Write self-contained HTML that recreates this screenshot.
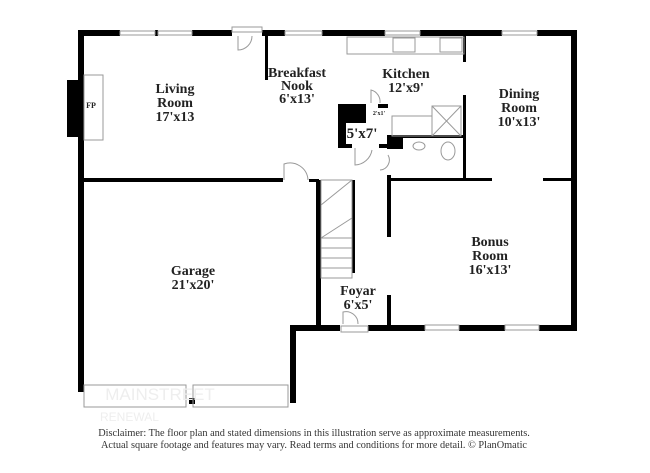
<!DOCTYPE html>
<html><head><style>
html,body{margin:0;padding:0;background:#fff;width:650px;height:473px;overflow:hidden}
svg{position:absolute;left:0;top:0}
text{font-family:"Liberation Serif",serif;font-weight:bold;fill:#222;text-anchor:middle}
</style></head><body>
<svg width="650" height="473" viewBox="0 0 650 473">
<g fill="#000">
<rect x="78" y="30" width="42" height="6"/>
<rect x="155" y="30" width="3" height="6"/>
<rect x="192" y="30" width="40" height="6"/>
<rect x="262" y="30" width="23" height="6"/>
<rect x="322" y="30" width="63" height="6"/>
<rect x="420" y="30" width="82" height="6"/>
<rect x="537" y="30" width="40" height="6"/>
<rect x="78" y="30" width="6" height="362"/>
<rect x="67" y="80" width="14" height="57"/>
<rect x="571" y="30" width="6" height="301"/>
<rect x="290" y="325" width="50" height="6"/>
<rect x="368" y="325" width="57" height="6"/>
<rect x="459" y="325" width="46" height="6"/>
<rect x="539" y="325" width="38" height="6"/>
<rect x="290" y="325" width="6" height="78"/>
<rect x="83" y="178" width="200" height="4"/>
<rect x="265" y="35" width="3" height="45"/>
<rect x="316" y="180" width="5" height="147"/>
<rect x="352" y="180" width="3" height="93"/>
<rect x="309" y="179" width="10" height="3"/>
<rect x="387" y="175" width="4" height="62"/>
<rect x="387" y="295" width="4" height="32"/>
<rect x="387" y="178" width="105" height="3"/>
<rect x="543" y="178" width="30" height="3"/>
<rect x="463" y="35" width="3" height="27"/>
<rect x="463" y="95" width="3" height="85"/>
<rect x="338" y="104" width="8" height="44"/>
<rect x="338" y="104" width="28" height="19"/>
<rect x="338" y="144" width="14" height="4"/>
<rect x="378" y="104" width="10" height="4"/>
<rect x="379" y="144" width="9" height="4"/>
<rect x="387" y="135" width="16" height="14"/>
<rect x="387" y="135" width="76" height="3"/>
<rect x="189" y="398" width="6" height="6"/>
</g>
<g fill="none" stroke="#999" stroke-width="1">
<rect x="120" y="31" width="35" height="4"/>
<rect x="158" y="31" width="34" height="4"/>
<rect x="285" y="31" width="37" height="4"/>
<rect x="385" y="31" width="35" height="4"/>
<rect x="502" y="31" width="35" height="4"/>
<rect x="425" y="325" width="34" height="5"/>
<rect x="505" y="325" width="34" height="5"/>
<rect x="232" y="27" width="30" height="5"/>
<path d="M238 36 V50 A14 14 0 0 0 252 36"/>
<rect x="84" y="75" width="19" height="65"/>
<rect x="347" y="37" width="117" height="17"/>
<rect x="393" y="38" width="22" height="14"/>
<rect x="440" y="38" width="22" height="14"/>
<rect x="84" y="385" width="102" height="22"/>
<rect x="193" y="385" width="95" height="22"/>
<rect x="321" y="180" width="31" height="98"/>
<path d="M321 238 H352 M321 248 H352 M321 258 H352 M321 268 H352 M321 205 L352 180 M321 238 L352 218"/>
<rect x="432" y="106" width="29" height="30"/>
<path d="M432 106 L461 136 M461 106 L432 136"/>
<rect x="392" y="116" width="40" height="20"/>
<ellipse cx="448" cy="151" rx="7" ry="9"/>
<ellipse cx="419" cy="146" rx="6" ry="4"/>
<path d="M284 180 V164 A18 18 0 0 1 308 180"/>
<path d="M343 324 V312 A12 12 0 0 1 358 324"/>
<path d="M355 148 V165 A18 18 0 0 0 372 150"/>
<path d="M371 103 V90 A12 12 0 0 1 380 103"/>
<path d="M380 170 A10 10 0 0 0 388 155"/>
<rect x="341" y="326" width="27" height="6"/>
</g>
<g font-size="14">
<text x="175" y="93">Living</text><text x="175" y="107">Room</text><text x="175" y="121">17'x13</text>
<text x="297" y="77">Breakfast</text><text x="297" y="90">Nook</text><text x="297" y="103">6'x13'</text>
<text x="406" y="78">Kitchen</text><text x="406" y="92">12'x9'</text>
<text x="519" y="98">Dining</text><text x="519" y="112">Room</text><text x="519" y="126">10'x13'</text>
<text x="490" y="246">Bonus</text><text x="490" y="260">Room</text><text x="490" y="274">16'x13'</text>
<text x="193" y="275">Garage</text><text x="193" y="289">21'x20'</text>
<text x="358" y="295">Foyar</text><text x="358" y="309">6'x5'</text>
<text x="362" y="138" font-size="15">5'x7'</text>
</g>
<text x="91" y="108" font-size="8">FP</text>
<text x="379" y="115" font-size="6">2'x1'</text>
<text x="160" y="400" font-size="17" style="fill:#eee;font-family:'Liberation Sans',sans-serif;font-weight:normal">MAINSTREET</text>
<text x="100" y="421" font-size="12" style="fill:#eee;font-family:'Liberation Sans',sans-serif;font-weight:normal;text-anchor:start">RENEWAL</text>
<text x="314" y="436" font-size="10.3" style="font-weight:normal;fill:#333">Disclaimer: The floor plan and stated dimensions in this illustration serve as approximate measurements.</text>
<text x="314" y="448" font-size="10.3" style="font-weight:normal;fill:#333">Actual square footage and features may vary. Read terms and conditions for more detail. © PlanOmatic</text>
</svg>
</body></html>
